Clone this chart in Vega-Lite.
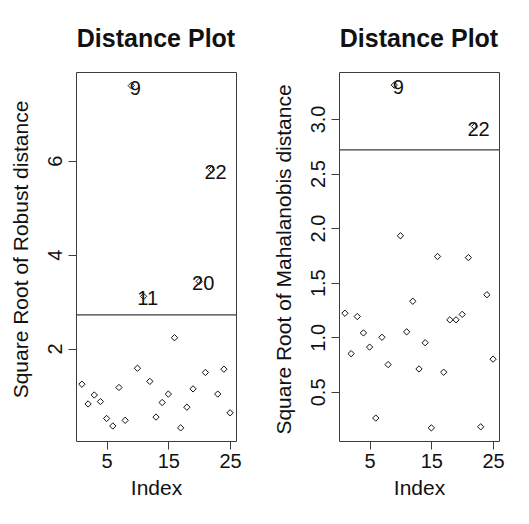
{
  "$schema": "https://vega.github.io/schema/vega-lite/v6.json",
  "background": "white",
  "padding": {"left": 9, "top": 26, "right": 5, "bottom": 5},
  "config": {
    "font": "Liberation Sans",
    "view": {"stroke": "#3c3c3c", "strokeWidth": 1},
    "axis": {"grid": false, "domain": false, "tickColor": "#3c3c3c", "tickSize": 8, "labelFontSize": 20, "titleFontSize": 21, "labelColor": "#111111", "titleColor": "#111111", "titleFontWeight": "normal", "labelFont": "Liberation Sans", "titleFont": "Liberation Sans"},
    "axisY": {"labelAngle": -90, "labelAlign": "center", "labelBaseline": "bottom", "labelPadding": 3, "titlePadding": 14},
    "axisX": {"labelPadding": 2, "titlePadding": 6},
    "title": {"fontSize": 25, "font": "Liberation Sans", "fontWeight": "bold", "color": "#111111", "offset": 20},
    "concat": {"spacing": 30}
  },
  "datasets": {
    "robust": [
      {"index": 1, "value": 1.24, "label": null},
      {"index": 2, "value": 0.82, "label": null},
      {"index": 3, "value": 1.01, "label": null},
      {"index": 4, "value": 0.87, "label": null},
      {"index": 5, "value": 0.51, "label": null},
      {"index": 6, "value": 0.35, "label": null},
      {"index": 7, "value": 1.17, "label": null},
      {"index": 8, "value": 0.47, "label": null},
      {"index": 9, "value": 7.6, "label": "9"},
      {"index": 10, "value": 1.58, "label": null},
      {"index": 11, "value": 3.11, "label": "11"},
      {"index": 12, "value": 1.3, "label": null},
      {"index": 13, "value": 0.54, "label": null},
      {"index": 14, "value": 0.85, "label": null},
      {"index": 15, "value": 1.03, "label": null},
      {"index": 16, "value": 2.23, "label": null},
      {"index": 17, "value": 0.31, "label": null},
      {"index": 18, "value": 0.75, "label": null},
      {"index": 19, "value": 1.14, "label": null},
      {"index": 20, "value": 3.43, "label": "20"},
      {"index": 21, "value": 1.49, "label": null},
      {"index": 22, "value": 5.81, "label": "22"},
      {"index": 23, "value": 1.03, "label": null},
      {"index": 24, "value": 1.56, "label": null},
      {"index": 25, "value": 0.63, "label": null}
    ],
    "mahal": [
      {"index": 1, "value": 1.22, "label": null},
      {"index": 2, "value": 0.85, "label": null},
      {"index": 3, "value": 1.19, "label": null},
      {"index": 4, "value": 1.04, "label": null},
      {"index": 5, "value": 0.91, "label": null},
      {"index": 6, "value": 0.26, "label": null},
      {"index": 7, "value": 1.0, "label": null},
      {"index": 8, "value": 0.75, "label": null},
      {"index": 9, "value": 3.31, "label": "9"},
      {"index": 10, "value": 1.93, "label": null},
      {"index": 11, "value": 1.05, "label": null},
      {"index": 12, "value": 1.33, "label": null},
      {"index": 13, "value": 0.71, "label": null},
      {"index": 14, "value": 0.95, "label": null},
      {"index": 15, "value": 0.17, "label": null},
      {"index": 16, "value": 1.74, "label": null},
      {"index": 17, "value": 0.68, "label": null},
      {"index": 18, "value": 1.16, "label": null},
      {"index": 19, "value": 1.16, "label": null},
      {"index": 20, "value": 1.21, "label": null},
      {"index": 21, "value": 1.73, "label": null},
      {"index": 22, "value": 2.93, "label": "22"},
      {"index": 23, "value": 0.18, "label": null},
      {"index": 24, "value": 1.39, "label": null},
      {"index": 25, "value": 0.8, "label": null}
    ],
    "cutoff": [{"cut": 2.716}]
  },
  "hconcat": [
    {
      "width": 160,
      "height": 369,
      "title": "Distance Plot",
      "layer": [
        {
          "data": {"name": "cutoff"},
          "mark": {"type": "rule", "color": "#3c3c3c", "strokeWidth": 1.2},
          "encoding": {"y": {"field": "cut", "type": "quantitative", "scale": {"domain": [0.03, 7.89], "nice": false, "zero": false}}}
        },
        {
          "data": {"name": "robust"},
          "mark": {"type": "point", "shape": "diamond", "filled": false, "stroke": "#111111", "strokeWidth": 1, "size": 40, "opacity": 1},
          "encoding": {
            "x": {"field": "index", "type": "quantitative", "scale": {"domain": [0.04, 25.96], "nice": false, "zero": false}, "axis": {"values": [5, 10, 15, 20, 25], "labelExpr": "datum.value % 10 == 5 ? datum.label : ''", "title": "Index"}},
            "y": {"field": "value", "type": "quantitative", "scale": {"domain": [0.03, 7.89], "nice": false, "zero": false}, "axis": {"values": [2, 4, 6], "title": "Square Root of Robust distance", "titleY": 177}}
          }
        },
        {
          "data": {"name": "robust"},
          "transform": [{"filter": "datum.label != null"}],
          "mark": {"type": "text", "fontSize": 20, "dx": 4, "dy": 3, "align": "center", "baseline": "middle", "color": "#111111"},
          "encoding": {
            "x": {"field": "index", "type": "quantitative"},
            "y": {"field": "value", "type": "quantitative"},
            "text": {"field": "label"}
          }
        }
      ]
    },
    {
      "width": 160,
      "height": 369,
      "title": "Distance Plot",
      "layer": [
        {
          "data": {"name": "cutoff"},
          "mark": {"type": "rule", "color": "#3c3c3c", "strokeWidth": 1.2},
          "encoding": {"y": {"field": "cut", "type": "quantitative", "scale": {"domain": [0.05, 3.43], "nice": false, "zero": false}}}
        },
        {
          "data": {"name": "mahal"},
          "mark": {"type": "point", "shape": "diamond", "filled": false, "stroke": "#111111", "strokeWidth": 1, "size": 40, "opacity": 1},
          "encoding": {
            "x": {"field": "index", "type": "quantitative", "scale": {"domain": [0.04, 25.96], "nice": false, "zero": false}, "axis": {"values": [5, 10, 15, 20, 25], "labelExpr": "datum.value % 10 == 5 ? datum.label : ''", "title": "Index"}},
            "y": {"field": "value", "type": "quantitative", "scale": {"domain": [0.05, 3.43], "nice": false, "zero": false}, "axis": {"values": [0.5, 1, 1.5, 2, 2.5, 3], "format": ".1f", "title": "Square Root of Mahalanobis distance", "titleY": 187}}
          }
        },
        {
          "data": {"name": "mahal"},
          "transform": [{"filter": "datum.label != null"}],
          "mark": {"type": "text", "fontSize": 20, "dx": 4, "dy": 3, "align": "center", "baseline": "middle", "color": "#111111"},
          "encoding": {
            "x": {"field": "index", "type": "quantitative"},
            "y": {"field": "value", "type": "quantitative"},
            "text": {"field": "label"}
          }
        }
      ]
    }
  ]
}
